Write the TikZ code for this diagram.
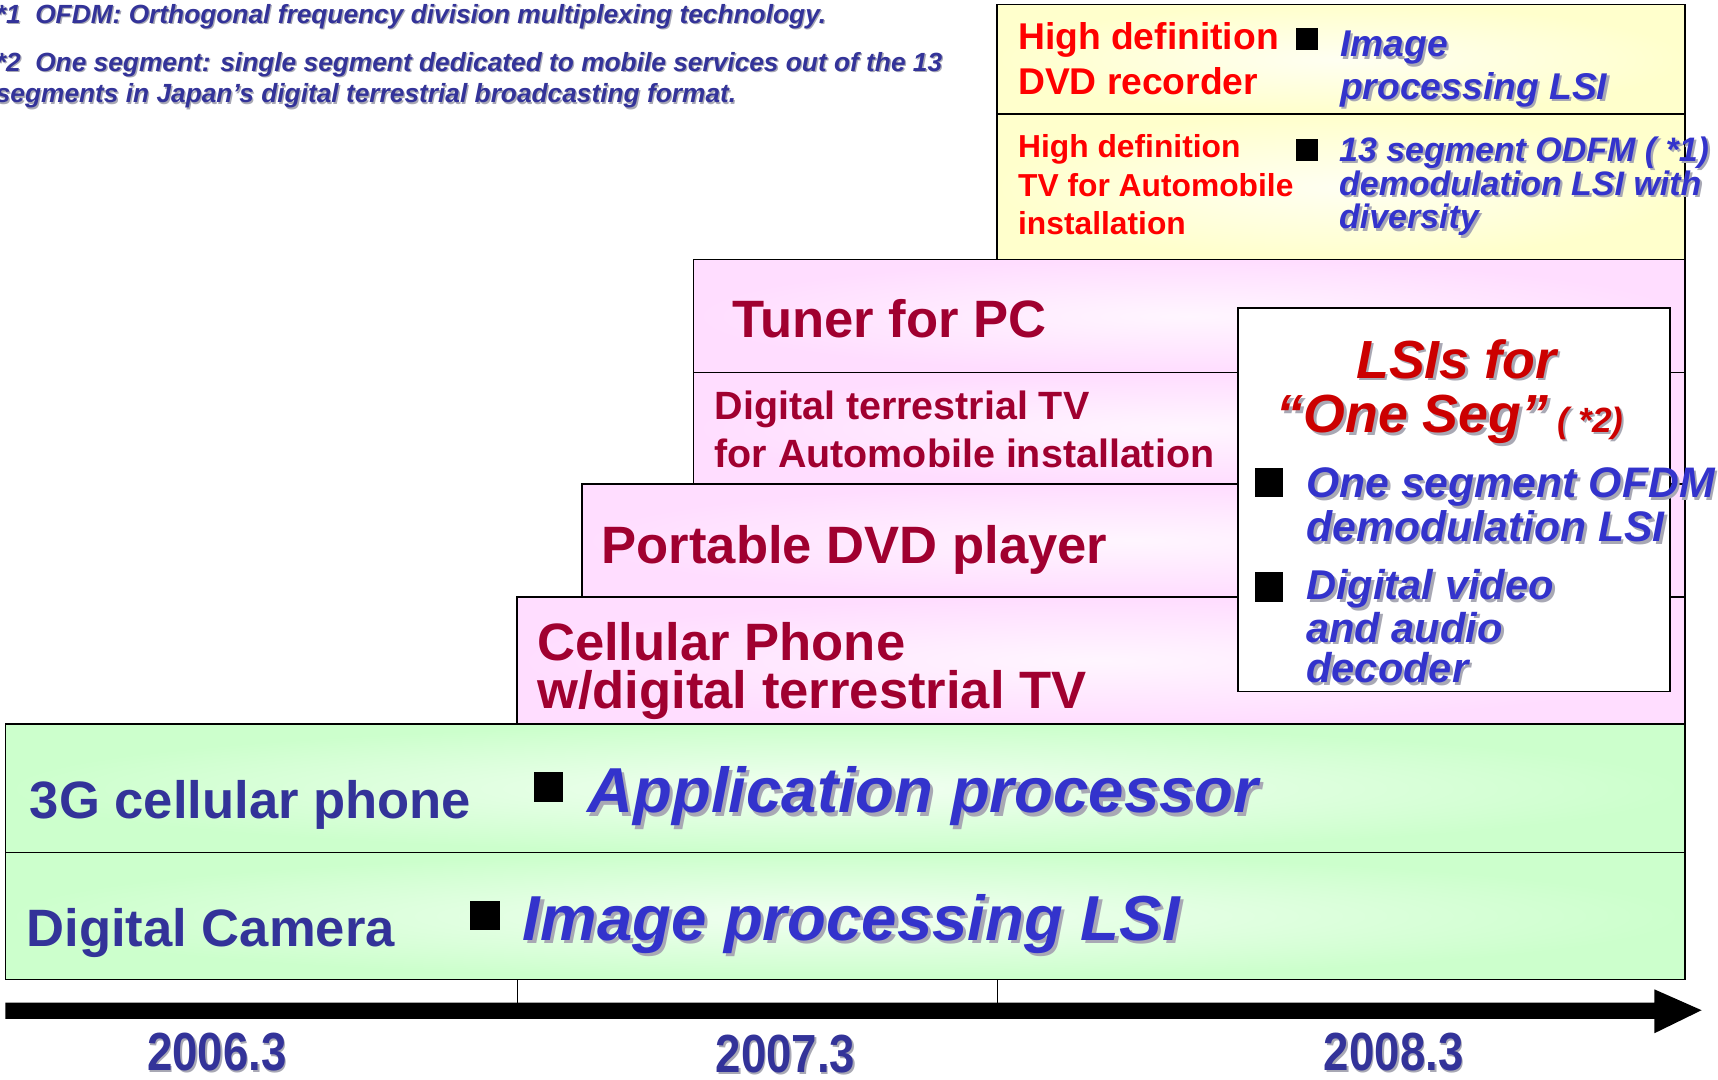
\documentclass[tikz,border=0pt]{standalone}
\usepackage{fontspec}
\setmainfont{Liberation Sans}
\newfontfamily\narrowfont[FakeStretch=0.85]{Liberation Sans}
\usepackage{xcolor}
\usepackage{tikz}
\usetikzlibrary{calc}

\definecolor{navy}{HTML}{333399}
\definecolor{itemblue}{HTML}{3333CC}
\definecolor{wine}{HTML}{A00030}
\definecolor{lsired}{HTML}{CC0000}
\definecolor{pinkout}{HTML}{FFDDFF}
\definecolor{pinkin}{HTML}{FFF6FF}
\definecolor{greenout}{HTML}{CCFFCC}
\definecolor{greenin}{HTML}{F2FFF2}
\definecolor{yellowout}{HTML}{FFFFCC}
\definecolor{yellowin}{HTML}{FFFFF2}
\definecolor{shadowgray}{HTML}{A8A8B4}

\newcommand{\fsz}[2]{\fontsize{#1}{#2}\selectfont}
% text with a grey drop shadow
\newcommand{\shd}[2][2.5pt]{\rlap{\kern#1\raisebox{-#1}{\color{shadowgray}#2}}#2}

\begin{document}
\begin{tikzpicture}[x=1pt,y=-1pt,
  box/.style={draw=black,line width=1.5pt},
  pinkrow/.style={box,shade,shading=radial,inner color=pinkin,outer color=pinkout},
  greenrow/.style={box,shade,shading=radial,inner color=greenin,outer color=greenout},
  yellowrow/.style={box,shade,shading=radial,inner color=yellowin,outer color=yellowout},
  lbl/.style={anchor=base west,inner sep=0pt,align=left},
  item/.style={lbl,text=itemblue,font=\bfseries\itshape},
  year/.style={anchor=base,inner sep=0pt,text=navy,font=\narrowfont\bfseries\fsz{49}{49}},
  bullet/.style={fill=black}]
  \useasboundingbox (0,0) rectangle (1568,985);

  % yellow block, top right
  \path[yellowrow] (910,4) rectangle (1538,104);
  \path[yellowrow] (910,104) rectangle (1538,237);

  % pink steps
  \path[pinkrow] (633,237) rectangle (1538,340);
  \path[pinkrow] (633,340) rectangle (1538,442);
  \path[pinkrow] (531,442) rectangle (1538,545);
  \path[pinkrow] (472,545) rectangle (1538,661);
  \draw[box,fill=white] (1130,281) rectangle (1524,631);

  % green rows
  \path[greenrow] (5,661) rectangle (1538,778);
  \path[greenrow] (5,778) rectangle (1538,894);

  % time axis
  \draw[line width=1pt] (472,894) -- (472,915) (910,894) -- (910,915);
  \fill (5,915) -- (1510,915) -- (1510,903) -- (1553,922) -- (1510,943)
    -- (1510,930) -- (5,930) -- cycle;
  \node[year] (y2006) at (198,977) {\shd[1.5pt]{2006.3}};
  \node[year] (y2007) at (717,979) {\shd[1.5pt]{2007.3}};
  \node[year] (y2008) at (1272,977) {\shd[1.5pt]{2008.3}};

  % notes (base = last line)
  \node[lbl,text=navy,font=\bfseries\itshape\fsz{24}{24}] (note1) at (-4,21)
    {\shd[1.2pt]{*1\ \ OFDM: Orthogonal frequency division multiplexing technology.}};
  \node[lbl,text=navy,font=\bfseries\itshape\fsz{24}{29}] (note2) at (-4,94)
    {\shd[1.2pt]{*2\ \ One segment: single segment dedicated to mobile services out of the 13}\\
     \shd[1.2pt]{segments in Japan’s digital terrestrial broadcasting format.}};

  % high definition products
  \node[lbl,text=red,font=\bfseries\fsz{34}{41}] (hddvd) at (929,86) {High definition\\DVD recorder};
  \fill[bullet] (1183,26) rectangle (1203,46);
  \node[item,font=\bfseries\itshape\fsz{34}{39}] (hdimg) at (1223,91) {\shd[2pt]{Image}\\\shd[2pt]{processing LSI}};
  \node[lbl,text=red,font=\bfseries\fsz{29}{35}] (hdtv) at (929,214) {High definition\\TV for Automobile\\installation};
  \fill[bullet] (1183,127) rectangle (1203,147);
  \node[item,font=\bfseries\itshape\fsz{31}{31}] (seg13) at (1222,209)
    {\shd[2pt]{13 segment ODFM ( *1)}\\\shd[2pt]{demodulation LSI with}\\\shd[2pt]{diversity}};

  % one seg products
  \node[lbl,text=wine,font=\bfseries\fsz{48}{48}] (tuner) at (668,308) {Tuner for PC};
  \node[lbl,text=wine,font=\bfseries\fsz{36}{44}] (cartv) at (652,427) {Digital terrestrial TV\\for Automobile installation};
  \node[lbl,text=wine,font=\bfseries\fsz{48}{48}] (pdvd) at (549,514) {Portable DVD player};
  \node[lbl,text=wine,font=\bfseries\fsz{48}{44}] (cell) at (490,647) {Cellular Phone\\w/digital terrestrial TV};

  \node[anchor=base,inner sep=0pt,text=lsired,font=\bfseries\itshape\fsz{49}{49}] (lsis) at (1329,345) {\shd{LSIs for}};
  \node[lbl,text=lsired,font=\bfseries\itshape\fsz{49}{49}] (oneseg) at (1165,395)
    {\shd{“One Seg”}\,{\fsz{32}{32}\shd[2pt]{( *2)}}};
  \fill[bullet] (1145,427) rectangle (1171,454);
  \node[item,font=\bfseries\itshape\fsz{39}{40}] (ofdm) at (1192,494) {\shd{One segment OFDM}\\\shd{demodulation LSI}};
  \fill[bullet] (1145,522) rectangle (1171,549);
  \node[item,font=\bfseries\itshape\fsz{38}{37}] (avdec) at (1192,623) {\shd{Digital video}\\\shd{and audio}\\\shd{decoder}};

  % base products
  \node[lbl,text=navy,font=\bfseries\fsz{48}{48}] (phone3g) at (27,747) {3G cellular phone};
  \fill[bullet] (487,705) rectangle (514,732);
  \node[item,font=\bfseries\itshape\fsz{58}{58}] (appproc) at (536,742) {\shd[3pt]{Application processor}};
  \node[lbl,text=navy,font=\bfseries\fsz{48}{48}] (camera) at (24,864) {Digital Camera};
  \fill[bullet] (429,822) rectangle (456,849);
  \node[item,font=\bfseries\itshape\fsz{58}{58}] (camlsi) at (477,858) {\shd[3pt]{Image processing LSI}};
\end{tikzpicture}
\end{document}
